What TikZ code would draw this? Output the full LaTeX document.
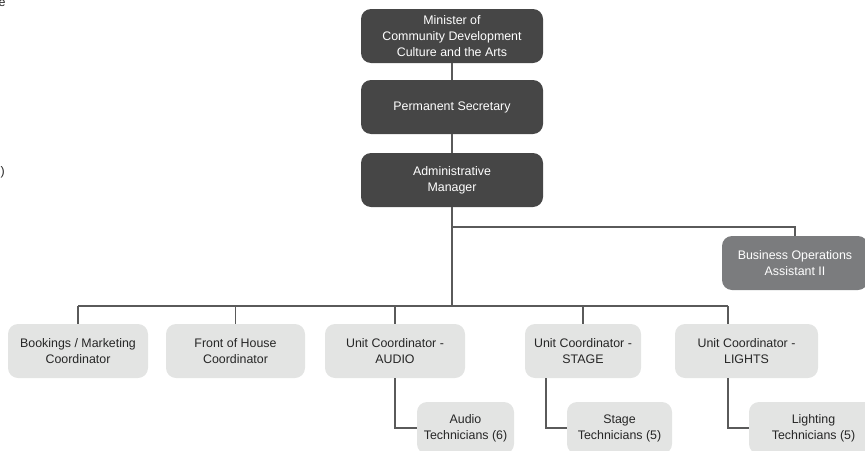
\documentclass[tikz,border=0pt]{standalone}
\usepackage{fontspec}
\setmainfont{Liberation Sans}
\definecolor{darkbox}{HTML}{464646}
\definecolor{midbox}{HTML}{7B7C7E}
\definecolor{lightbox}{HTML}{E3E4E3}
\definecolor{linecol}{HTML}{5A5A5A}
\begin{document}
\begin{tikzpicture}[x=1pt,y=-1pt,
  every node/.style={font=\fontsize{12.4}{16}\selectfont},
  box/.style={rounded corners=10pt, align=center, inner sep=0pt, minimum height=54pt},
  dark/.style={box, fill=darkbox, text=white},
  mid/.style={box, fill=midbox, text=white},
  light/.style={box, fill=lightbox, text=black!85},
  conn/.style={draw=linecol, line width=1.2pt}]
\useasboundingbox (0,0) rectangle (865,450);
% stray cut-off texts at the left edge
\node[anchor=base, inner sep=0pt, text=black!85] (stray1) at (2,6) {e};
\node[anchor=base east, inner sep=0pt, text=black!85] (stray2) at (5,175) {)};
% top chain
\node[dark, minimum width=182pt] (min) at (452,36) {Minister of\\Community Development\\Culture and the Arts};
\node[dark, minimum width=182pt] (perm) at (452,107) {Permanent Secretary};
\node[dark, minimum width=182pt] (admin) at (452,180) {Administrative\\Manager};
\node[mid, minimum width=146pt] (biz) at (795,263) {Business Operations\\Assistant II};
% second row
\node[light, minimum width=140pt] (book) at (78,351) {Bookings / Marketing\\Coordinator};
\node[light, minimum width=139pt] (front) at (235.5,351) {Front of House\\Coordinator};
\node[light, minimum width=140pt] (audio) at (395,351) {Unit Coordinator -\\AUDIO};
\node[light, minimum width=116pt] (stage) at (583,351) {Unit Coordinator -\\STAGE};
\node[light, minimum width=143pt] (lights) at (746.5,351) {Unit Coordinator -\\LIGHTS};
% technicians
\node[light, minimum width=97pt, minimum height=52pt] (atech) at (465.5,428) {Audio\\Technicians (6)};
\node[light, minimum width=105pt, minimum height=52pt] (stech) at (619.5,428) {Stage\\Technicians (5)};
\node[light, minimum width=129pt, minimum height=52pt] (ltech) at (813.5,428) {Lighting\\Technicians (5)};
% connectors
\coordinate (br) at (452,227);
\coordinate (busL) at (78,306);
\coordinate (busR) at (728,306);
\draw[conn] (min.south) -- (perm.north);
\draw[conn] (perm.south) -- (admin.north);
\draw[conn] (admin.south) -- (admin.south |- busL);
\draw[conn] (br) -| (biz.north);
\draw[conn] (busL) -- (busR);
\draw[conn] (busL) -- (book.north);
\draw[conn] (front.north |- busL) -- (front.north);
\draw[conn] (audio.north |- busL) -- (audio.north);
\draw[conn] (stage.north |- busL) -- (stage.north);
\draw[conn] (busR) -- (busR |- lights.north);
\draw[conn] (audio.south) |- (atech.west);
\draw[conn] ([xshift=-37pt]stage.south) |- (stech.west);
\draw[conn] ([xshift=-18.5pt]lights.south) |- (ltech.west);
\end{tikzpicture}
\end{document}
